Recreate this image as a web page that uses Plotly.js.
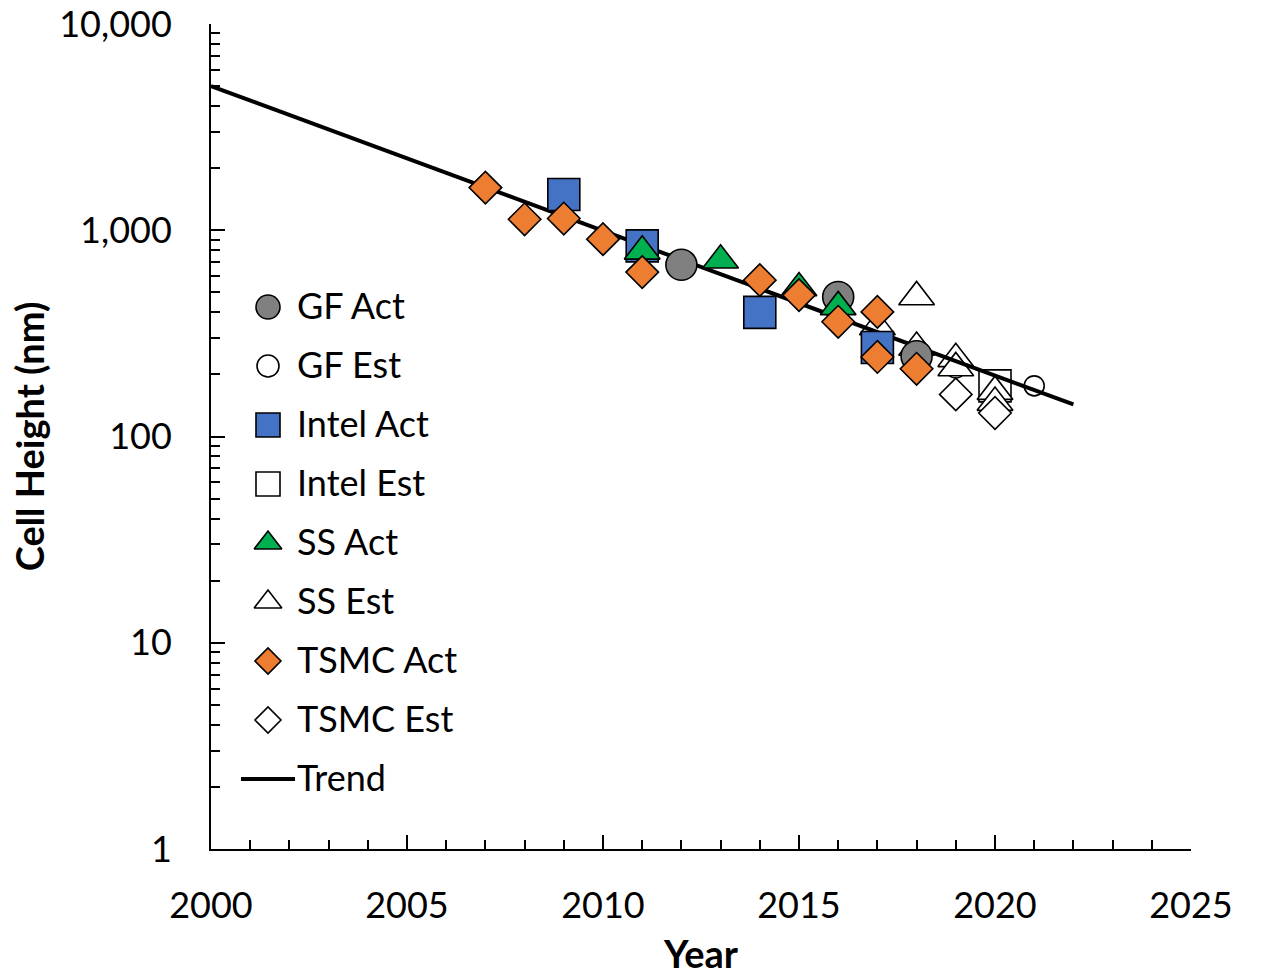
<!DOCTYPE html>
<html>
<head>
<meta charset="utf-8">
<script src="https://cdn.plot.ly/plotly-3.0.1.min.js"></script>
<style>
  html, body { margin: 0; padding: 0; background: #fff; }
  #chart { width: 1261px; height: 977px; }
</style>
</head>
<body>
<div id="chart"></div>
<script>
// Standard-cell height (nm) by year of introduction, per company
const gfActYears = [2012, 2016, 2018];
const gfActHeights = [680, 475, 245];

const gfEstYears = [2019, 2021];
const gfEstHeights = [215, 176];

const intelActYears = [2009, 2011, 2014, 2017];
const intelActHeights = [1490, 840, 400, 270];

const intelEstYears = [2020];
const intelEstHeights = [176];

const ssActYears = [2011, 2013, 2015, 2016];
const ssActHeights = [790, 715, 525, 425];

const ssEstYears = [2017, 2018, 2018, 2019, 2019, 2020, 2020];
const ssEstHeights = [340, 475, 270, 238, 215, 165, 146];

const tsmcActYears = [2007, 2008, 2009, 2010, 2011, 2014, 2015, 2016, 2017, 2017, 2018];
const tsmcActHeights = [1610, 1130, 1140, 905, 627, 573, 485, 360, 402, 243, 213];

const tsmcEstYears = [2019, 2020];
const tsmcEstHeights = [160, 130];

const trendYears = [2000, 2022];
const trendHeights = [5000, 143];

const seriesNames = ['GF Act', 'GF Est', 'Intel Act', 'Intel Est', 'SS Act', 'SS Est', 'TSMC Act', 'TSMC Est', 'Trend'];
const yTickLabels = ['1', '10', '100', '1,000', '10,000'];
const yTickValues = [1, 10, 100, 1000, 10000];

// marker styling
const GRAY = '#808080', BLUE = '#4472C4', GREEN = '#00B050', ORANGE = '#ED7D31', WHITE = '#FFFFFF';
const edge = { color: '#000000', width: 1.6 };

const styles = {
  'GF Act':    { symbol: 'circle',      color: GRAY,   size: 31, legendSize: 24 },
  'GF Est':    { symbol: 'circle',      color: WHITE,  size: 20, legendSize: 22 },
  'Intel Act': { symbol: 'square',      color: BLUE,   size: 32, legendSize: 24 },
  'Intel Est': { symbol: 'square',      color: WHITE,  size: 32, legendSize: 24 },
  'SS Act':    { symbol: 'triangle-up', color: GREEN,  size: 31, legendSize: 24 },
  'SS Est':    { symbol: 'triangle-up', color: WHITE,  size: 31, legendSize: 24 },
  'TSMC Act':  { symbol: 'diamond',     color: ORANGE, size: 25, legendSize: 20 },
  'TSMC Est':  { symbol: 'diamond',     color: WHITE,  size: 25, legendSize: 20 }
};

const seriesData = {
  'GF Act':    [gfActYears, gfActHeights],
  'GF Est':    [gfEstYears, gfEstHeights],
  'Intel Act': [intelActYears, intelActHeights],
  'Intel Est': [intelEstYears, intelEstHeights],
  'SS Act':    [ssActYears, ssActHeights],
  'SS Est':    [ssEstYears, ssEstHeights],
  'TSMC Act':  [tsmcActYears, tsmcActHeights],
  'TSMC Est':  [tsmcEstYears, tsmcEstHeights]
};

function markerTrace(name) {
  const s = styles[name];
  const [xs, ys] = seriesData[name];
  return {
    type: 'scatter', mode: 'markers', name: name,
    x: xs, y: ys, xaxis: 'x', yaxis: 'y',
    marker: { symbol: s.symbol, color: s.color, size: s.size, opacity: 1, line: edge },
    cliponaxis: false, hoverinfo: 'x+y+name'
  };
}

const trendTrace = {
  type: 'scatter', mode: 'lines', name: 'Trend',
  x: trendYears, y: trendHeights, xaxis: 'x', yaxis: 'y',
  line: { color: '#000000', width: 4 }
};

// estimates sit under the trend line, actuals on top of it
const traces = [
  markerTrace('GF Est'), markerTrace('Intel Est'), markerTrace('SS Est'), markerTrace('TSMC Est'),
  trendTrace,
  markerTrace('GF Act'), markerTrace('Intel Act'), markerTrace('SS Act'), markerTrace('TSMC Act')
];

// Key drawn on a pixel-scaled overlay so the symbols can be full size
const plotW = 980, plotH = 825;
const keyMarkerX = 57, keyTextX = 86, keyTop = 283, keyGap = 59;
const markerNames = seriesNames.slice(0, 8);
const keyRows = seriesNames.map((n, i) => keyTop + i * keyGap);

traces.push({
  type: 'scatter', mode: 'markers', xaxis: 'x2', yaxis: 'y2', hoverinfo: 'skip',
  x: markerNames.map(() => keyMarkerX), y: keyRows.slice(0, 8),
  marker: {
    symbol: markerNames.map(n => styles[n].symbol),
    color: markerNames.map(n => styles[n].color),
    size: markerNames.map(n => styles[n].legendSize),
    opacity: 1,
    line: edge
  }
});
traces.push({
  type: 'scatter', mode: 'lines', xaxis: 'x2', yaxis: 'y2', hoverinfo: 'skip',
  x: [keyMarkerX - 27, keyMarkerX + 27], y: [keyRows[8], keyRows[8]],
  line: { color: '#000000', width: 4 }
});
traces.push({
  type: 'scatter', mode: 'text', xaxis: 'x2', yaxis: 'y2', hoverinfo: 'skip',
  x: seriesNames.map(() => keyTextX), y: keyRows.map(v => v + 3), text: seriesNames,
  textposition: 'middle right', cliponaxis: false,
  textfont: { family: 'Lato, sans-serif', size: 36, color: '#000000' }
});

const layout = {
  width: 1261, height: 977,
  margin: { l: 211, r: 70, t: 24, b: 128 },
  paper_bgcolor: '#ffffff', plot_bgcolor: '#ffffff',
  showlegend: false,
  font: { family: 'Lato, sans-serif', color: '#000000' },
  xaxis: {
    range: [2000, 2025], tick0: 2000, dtick: 5,
    ticks: 'inside', ticklen: 14, tickwidth: 1.5, tickcolor: '#000000',
    showline: true, linewidth: 2, linecolor: '#000000',
    showgrid: false, zeroline: false,
    tickfont: { size: 36 }, ticklabelstandoff: 24, ticklabeloverflow: 'allow',
    minor: { dtick: 1, ticks: 'inside', ticklen: 9, tickwidth: 1.5, tickcolor: '#000000', showgrid: false },
    title: { text: '<b>Year</b>', font: { size: 38 }, standoff: 16 }
  },
  yaxis: {
    type: 'log', range: [0, 4],
    tickmode: 'array', tickvals: yTickValues, ticktext: yTickLabels,
    ticks: 'inside', ticklen: 14, tickwidth: 1.5, tickcolor: '#000000',
    showline: true, linewidth: 2, linecolor: '#000000',
    showgrid: false, zeroline: false,
    tickfont: { size: 36 }, ticklabelstandoff: 30, ticklabeloverflow: 'allow',
    minor: { dtick: 'D1', ticks: 'inside', ticklen: 9, tickwidth: 1.5, tickcolor: '#000000', showgrid: false },
    title: { text: '<b>Cell Height (nm)</b>', font: { size: 38 }, standoff: 3 }
  },
  xaxis2: { overlaying: 'x', range: [0, plotW], visible: false, fixedrange: true },
  yaxis2: { overlaying: 'y', range: [plotH, 0], visible: false, fixedrange: true }
};

Plotly.newPlot('chart', traces, layout, { displayModeBar: false, responsive: false });
</script>
</body>
</html>
